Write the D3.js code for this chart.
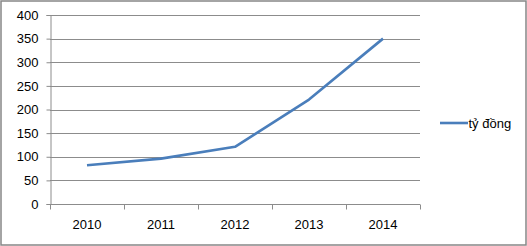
<!DOCTYPE html>
<html>
<head>
<meta charset="utf-8">
<script src="https://cdn.jsdelivr.net/npm/d3@7"></script>
<style>
  body { margin: 0; background: #fff; }
  svg { display: block; font-family: "Liberation Sans", Arial, sans-serif; }
</style>
</head>
<body>
<svg id="chart"></svg>
<script>
// chart data
const years = ["2010", "2011", "2012", "2013", "2014"];
const values = [82, 96, 121, 221, 350];
const yTicks = [0, 50, 100, 150, 200, 250, 300, 350, 400];
const seriesName = "tỷ đồng";

const width = 527, height = 246;
const margin = { top: 15, right: 107, bottom: 42, left: 50 };
const lineColor = "#4a7ebb";
const gridColor = "#8c8c8c";
const fontSize = "13px";

const svg = d3.select("#chart")
    .attr("width", width)
    .attr("height", height);

// outer frame
svg.append("rect")
    .attr("x", 1).attr("y", 1)
    .attr("width", width - 2).attr("height", height - 2)
    .attr("fill", "#fff")
    .attr("stroke", "#868686")
    .attr("stroke-width", 1.5);

const x = d3.scaleBand()
    .domain(years)
    .range([margin.left, width - margin.right]);

const y = d3.scaleLinear()
    .domain([0, 400])
    .range([height - margin.bottom, margin.top]);

// horizontal gridlines
svg.append("g")
    .selectAll("line")
    .data(yTicks.filter(d => d > 0))
    .join("line")
    .attr("x1", margin.left)
    .attr("x2", width - margin.right)
    .attr("y1", d => Math.round(y(d)) + 0.5)
    .attr("y2", d => Math.round(y(d)) + 0.5)
    .attr("stroke", gridColor)
    .attr("stroke-width", 1);

// y axis
const yAxis = svg.append("g")
    .attr("transform", `translate(${margin.left + 0.5},0)`)
    .call(d3.axisLeft(y).tickValues(yTicks).tickSize(4).tickPadding(8));
yAxis.select(".domain").attr("stroke", gridColor);
yAxis.selectAll(".tick line").attr("stroke", gridColor);
yAxis.selectAll(".tick text")
    .attr("fill", "#000")
    .style("font-size", fontSize)
    .style("font-family", "Liberation Sans, Arial, sans-serif");

// x axis, ticks between categories
const xAxis = svg.append("g")
    .attr("transform", `translate(0,${Math.round(y(0)) + 0.5})`);
xAxis.append("line")
    .attr("x1", margin.left)
    .attr("x2", width - margin.right)
    .attr("stroke", gridColor);
const bounds = years.map(d => x(d)).concat([x.range()[1]]);
xAxis.selectAll("line.tk")
    .data(bounds)
    .join("line")
    .attr("class", "tk")
    .attr("x1", d => Math.round(d) + 0.5)
    .attr("x2", d => Math.round(d) + 0.5)
    .attr("y1", 0)
    .attr("y2", 5)
    .attr("stroke", gridColor);
xAxis.selectAll("text")
    .data(years)
    .join("text")
    .attr("x", d => x(d) + x.bandwidth() / 2)
    .attr("y", 24.5)
    .attr("text-anchor", "middle")
    .attr("fill", "#000")
    .style("font-size", fontSize)
    .text(d => d);

// the line
const line = d3.line()
    .x((d, i) => x(years[i]) + x.bandwidth() / 2)
    .y(d => y(d));

svg.append("path")
    .datum(values)
    .attr("fill", "none")
    .attr("stroke", lineColor)
    .attr("stroke-width", 2.6)
    .attr("stroke-linejoin", "round")
    .attr("d", line);

// legend
const legend = svg.append("g")
    .attr("transform", "translate(440,123)");
legend.append("line")
    .attr("x1", 0).attr("x2", 28)
    .attr("stroke", lineColor)
    .attr("stroke-width", 2.6);
legend.append("text")
    .attr("x", 28.5)
    .attr("y", 5)
    .attr("fill", "#000")
    .style("font-size", fontSize)
    .text(seriesName);
</script>
</body>
</html>
